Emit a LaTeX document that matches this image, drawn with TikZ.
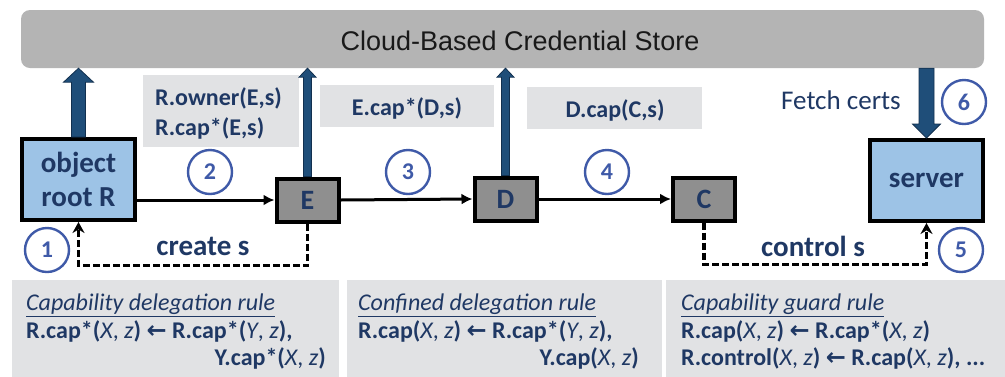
\documentclass[tikz,border=0pt]{standalone}
\usepackage{fontspec}
\setmainfont{Carlito}
\newfontfamily\storefont{Liberation Sans}
\newfontfamily\symfont{DejaVu Sans}
\usetikzlibrary{arrows.meta,calc}

\definecolor{navy}{HTML}{1F3864}
\definecolor{lightblue}{HTML}{9DC3E6}
\definecolor{boxgray}{HTML}{8F8F8F}
\definecolor{labelgray}{HTML}{E1E2E4}
\definecolor{ringblue}{HTML}{3F5AA8}
\definecolor{arrowblue}{HTML}{1F4E79}
\definecolor{arrowedge}{HTML}{12304F}
\definecolor{storegray}{HTML}{B4B4B4}

% block arrow: base, tip, half shaft, half head, signed head length
\newcommand{\fatarrow}[5]{%
  \filldraw[fill=arrowblue, draw=arrowedge, line width=0.8pt, line join=miter]
    ($(#1)+(-#3,0)$) -- ($(#2)+(-#3,#5)$) -- ($(#2)+(-#4,#5)$) -- (#2)
    -- ($(#2)+(#4,#5)$) -- ($(#2)+(#3,#5)$) -- ($(#1)+(#3,0)$) -- cycle;}

\newcommand{\la}{{\symfont\bfseries ←}}

\tikzset{
  bigbox/.style={draw=black, line width=4pt, fill=lightblue, text=navy,
    minimum width=113pt, minimum height=81pt, align=center,
    font=\fontsize{29}{34}\selectfont\bfseries},
  smallbox/.style={draw=black, line width=4pt, fill=boxgray, text=navy,
    minimum width=62pt, minimum height=43pt,
    font=\fontsize{28}{30}\selectfont\bfseries},
  labelbox/.style={fill=labelgray, inner sep=0pt},
  labeltext/.style={text=navy, font=\fontsize{24}{30}\selectfont\bfseries,
    align=left, inner sep=0pt},
  ring/.style={circle, draw=ringblue, line width=2.4pt, minimum size=44pt,
    inner sep=0pt, text=ringblue, font=\fontsize{24}{24}\selectfont\bfseries},
  conn/.style={draw=black, line width=3pt, -{Latex[length=11pt,width=11pt]}},
  dashconn/.style={draw=black, line width=3.5pt, dash pattern=on 7pt off 3pt,
    -{Stealth[length=11pt,width=12pt]}},
  ruletext/.style={text=navy, font=\fontsize{24}{26}\selectfont, inner sep=0pt},
  actiontext/.style={text=navy, font=\fontsize{29}{30}\selectfont\bfseries}
}

\begin{document}
\begin{tikzpicture}[x=1pt, y=-1pt]
\useasboundingbox (0,0) rectangle (1005,376);
\fill[white] (0,0) rectangle (1005,376);

% credential store bar
\node[fill=storegray, rounded corners=9pt, minimum width=963pt,
  minimum height=58pt, inner sep=0pt] (cloud) at (502.5,39) {};
\node[text=black!90, font=\storefont\fontsize{27}{30}\selectfont]
  (cloudtext) at (520,41) {Cloud-Based Credential Store};

% principals
\node[bigbox] (root) at (78.5,179.5) {object\\root R};
\node[smallbox] (E) at (307.5,200) {E};
\node[smallbox] (D) at (505.5,199) {D};
\node[smallbox] (C) at (704,199) {C};
\node[bigbox] (server) at (926.5,180.5) {server};

% credentials issued along the chain
\node[labelbox, minimum width=156pt, minimum height=72pt] (lab2) at (221,111) {};
\node[labeltext, anchor=west] (lab2text) at (155,113)
  {R.owner(E,s)\\R.cap*(E,s)};
\node[labelbox, minimum width=174pt, minimum height=42pt] (lab3) at (407,106) {};
\node[labeltext] (lab3text) at (407,108) {E.cap*(D,s)};
\node[labelbox, minimum width=175pt, minimum height=42pt] (lab4) at (614.5,108) {};
\node[labeltext] (lab4text) at (615,110) {D.cap(C,s)};
\node[text=navy, font=\fontsize{27}{30}\selectfont] (fetch) at (841,100) {Fetch certs};

% publishing to and fetching from the store
\coordinate (t1) at (root.north |- cloud.south);
\coordinate (t2) at (E.north |- cloud.south);
\coordinate (t3) at (D.north |- cloud.south);
\coordinate (t4) at (server.north);
\coordinate (b4) at (server.north |- cloud.south);
\fatarrow{root.north}{t1}{7}{15}{14}
\fatarrow{E.north}{t2}{4}{8.5}{9}
\fatarrow{D.north}{t3}{4}{8.5}{9}
\fatarrow{b4}{t4}{7.5}{14}{-14}

% delegation chain
\draw[conn] (root.east |- E.west) -- (E.west);
\draw[conn] (E.east) -- (D.west);
\draw[conn] (D.east) -- (C.west);

% creation and control
\draw[dashconn] (E.south) -- ++(0,42) -| (root.south);
\draw[dashconn] (C.south) -- ++(0,42) -| (server.south);
\node[actiontext] (create) at (203,246) {create s};
\node[actiontext] (control) at (813,246) {control s};

% step numbers
\node[ring] (c1) at (47,250) {1};
\node[ring] (c2) at (210,172) {2};
\node[ring] (c3) at (408,172) {3};
\node[ring] (c4) at (607,172) {4};
\node[ring] (c5) at (961,250) {5};
\node[ring] (c6) at (964,102) {6};

% rule panels
\node[labelbox, minimum width=327pt, minimum height=100pt] (r1) at (175.5,330) {};
\node[labelbox, minimum width=315pt, minimum height=100pt] (r2) at (504.5,330) {};
\node[labelbox, minimum width=339pt, minimum height=100pt] (r3) at (835.5,330) {};

\node[ruletext, anchor=west] (r1a) at (26,305) {\underline{\textit{Capability delegation rule}}};
\node[ruletext, anchor=west] (r1b) at (26,331)
  {\textbf{R.cap*(}\textit{X}, \textit{z}\textbf{) \la{} R.cap*(}\textit{Y}, \textit{z}\textbf{),}};
\node[ruletext, anchor=east] (r1c) at (326,358)
  {\textbf{Y.cap*(}\textit{X}, \textit{z}\textbf{)}};

\node[ruletext, anchor=west] (r2a) at (358,305) {\underline{\textit{Confined delegation rule}}};
\node[ruletext, anchor=west] (r2b) at (358,331)
  {\textbf{R.cap(}\textit{X}, \textit{z}\textbf{) \la{} R.cap*(}\textit{Y}, \textit{z}\textbf{),}};
\node[ruletext, anchor=east] (r2c) at (639,358)
  {\textbf{Y.cap(}\textit{X}, \textit{z}\textbf{)}};

\node[ruletext, anchor=west] (r3a) at (681,305) {\underline{\textit{Capability guard rule}}};
\node[ruletext, anchor=west] (r3b) at (681,331)
  {\textbf{R.cap(}\textit{X}, \textit{z}\textbf{) \la{} R.cap*(}\textit{X}, \textit{z}\textbf{)}};
\node[ruletext, anchor=west] (r3c) at (681,358)
  {\textbf{R.control(}\textit{X}, \textit{z}\textbf{) \la{} R.cap(}\textit{X}, \textit{z}\textbf{), ...}};
\end{tikzpicture}
\end{document}
